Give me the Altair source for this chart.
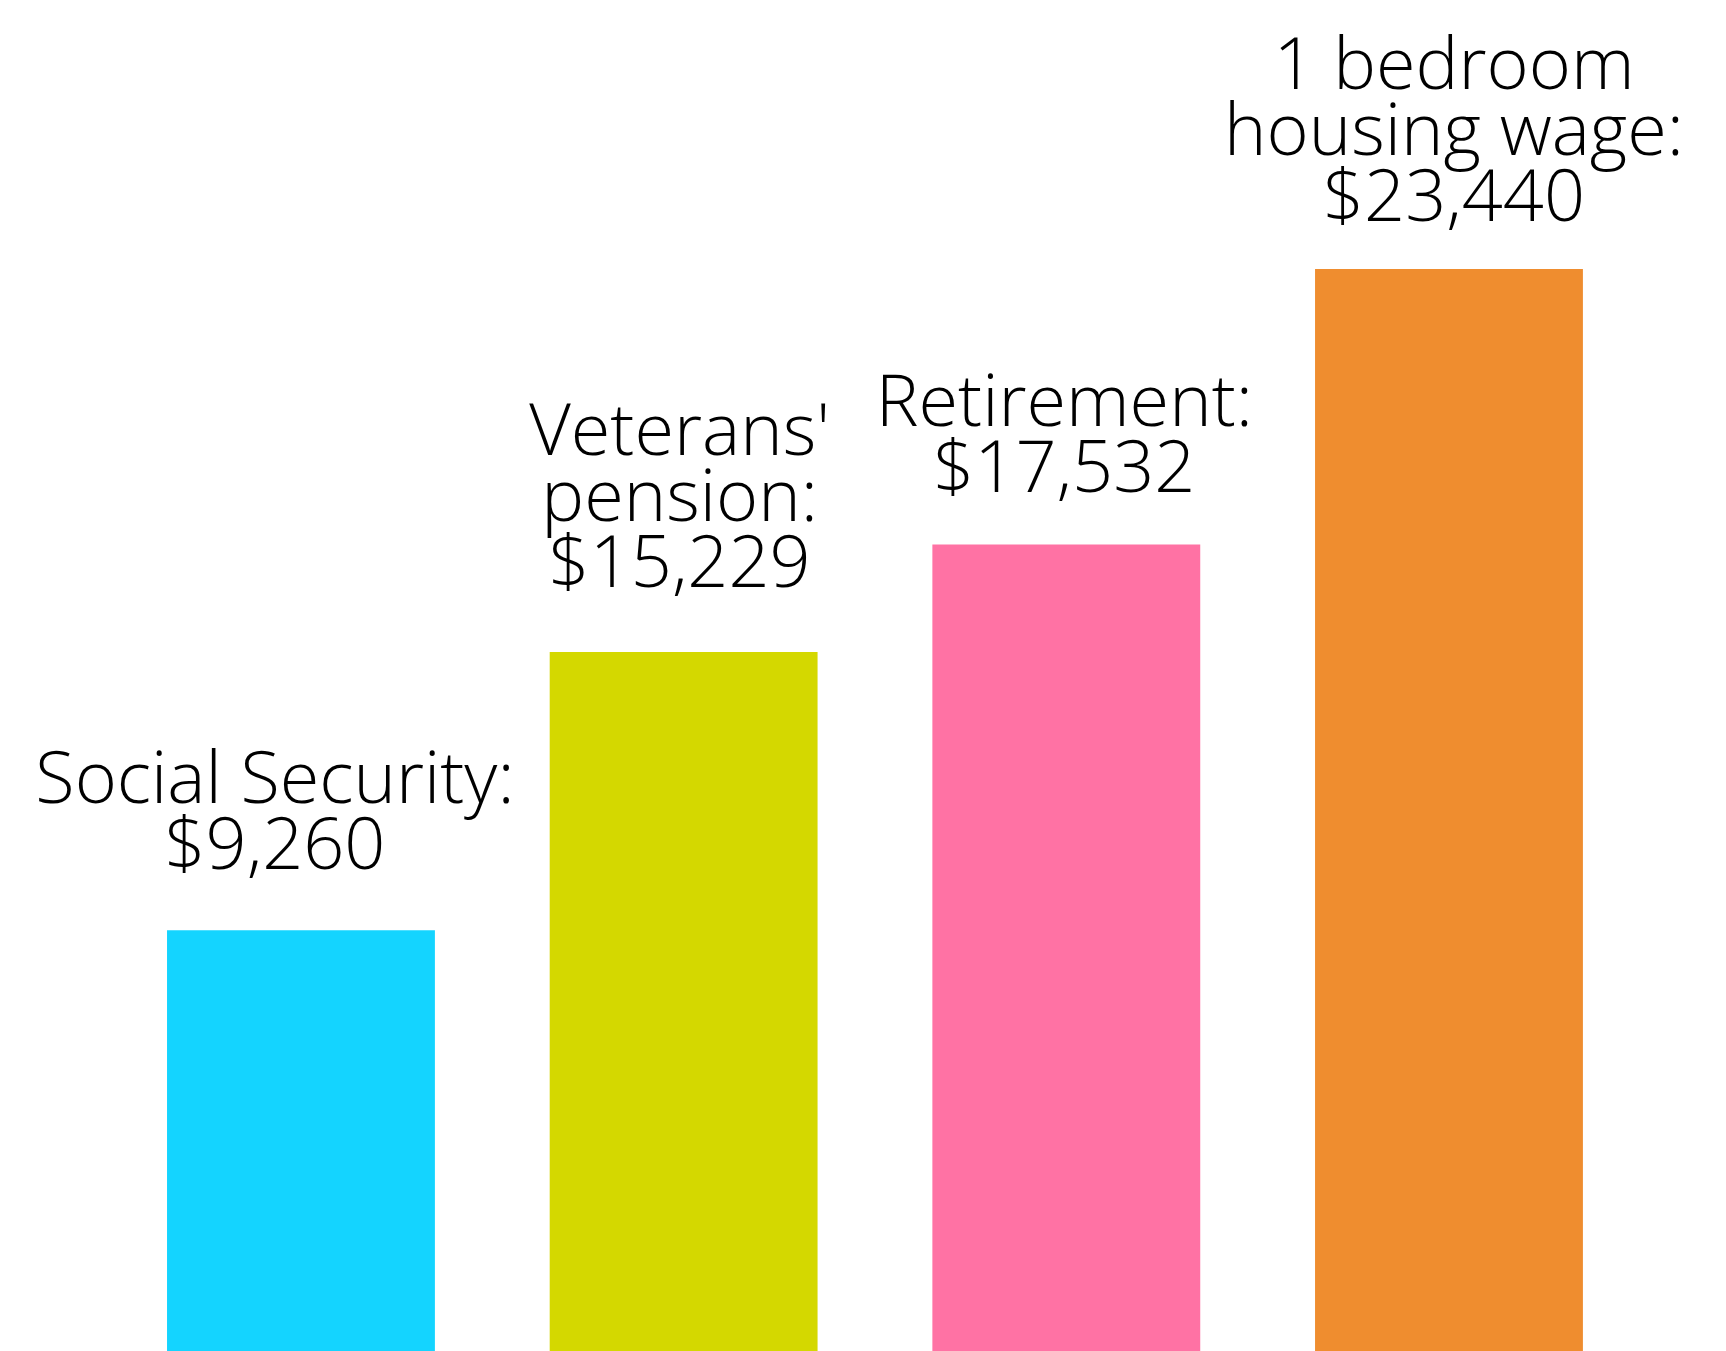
import altair as alt
import pandas as pd

categories = ["Social Security", "Veterans' pension", "Retirement", "1 bedroom housing wage"]
values = [9260, 15229, 17532, 23440]
labels = [
    "Social Security:\n$9,260",
    "Veterans'\npension:\n$15,229",
    "Retirement:\n$17,532",
    "1 bedroom\nhousing wage:\n$23,440",
]
colors = ["#14D4FF", "#D4D800", "#FF72A4", "#EF8D2F"]

df = pd.DataFrame({"category": categories, "value": values, "label": labels})

FONT = "Open Sans"
FS = 72
LH = 66

x_enc = alt.X(
    "category:N",
    sort=categories,
    axis=None,
    scale=alt.Scale(paddingInner=0.3, paddingOuter=0.3843, align=0.5407),
)
y_enc = alt.Y("value:Q", axis=None, scale=alt.Scale(domain=[0, 29040], nice=False, zero=True))

bars = alt.Chart(df).mark_bar().encode(
    x=x_enc,
    y=y_enc,
    color=alt.Color("category:N", scale=alt.Scale(domain=categories, range=colors), legend=None),
)

# per-label nudges (style only)
nudges = {
    "Social Security": (-26, -112),
    "Veterans' pension": (-4, -182),
    "Retirement": (-2, -104),
    "1 bedroom housing wage": (5, -165),
}

layers = [bars]
for cat in categories:
    dx, dy = nudges[cat]
    layers.append(
        alt.Chart(df)
        .transform_filter(alt.datum.category == cat)
        .mark_text(
            font=FONT,
            fontSize=FS,
            fontWeight=300,
            lineHeight=LH,
            lineBreak="\n",
            align="center",
            baseline="bottom",
            color="#000000",
            dx=dx,
            dy=dy,
        )
        .encode(x=x_enc, y=y_enc, text="label:N")
    )

chart = (
    alt.layer(*layers)
    .properties(
        width=1710,
        height=1354,
        autosize=alt.AutoSizeParams(type="none"),
        padding=0,
        view=alt.ViewBackground(strokeWidth=0, strokeOpacity=0, fill="#FFFFFF"),
    )
    .configure_view(strokeWidth=0, strokeOpacity=0)
    .configure(background="#FFFFFF")
)

chart.save("out.html", embed_options={"renderer": "svg", "actions": False})
